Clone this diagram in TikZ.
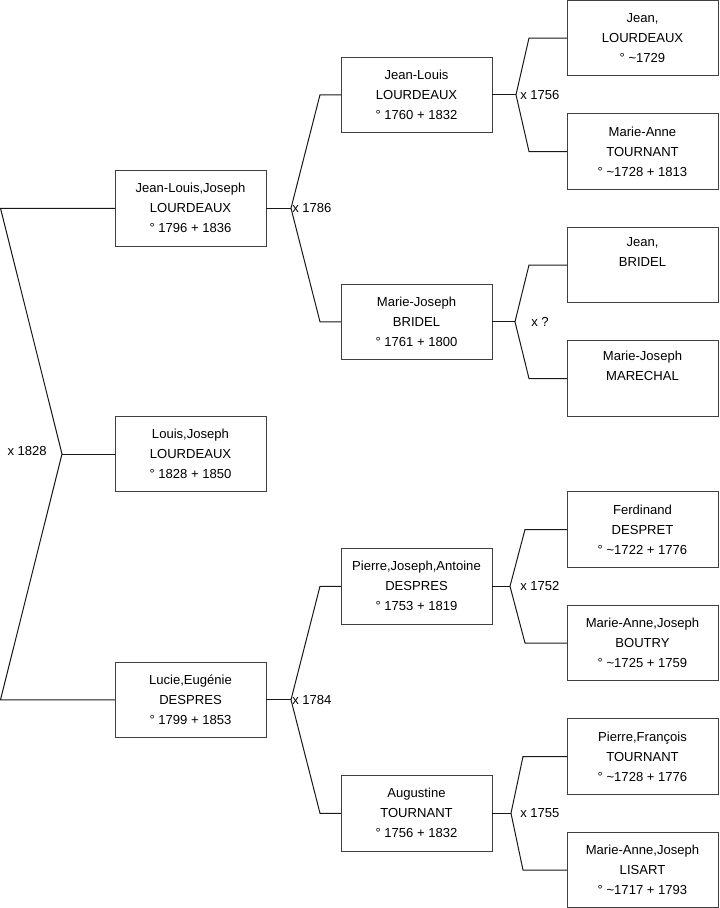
\documentclass[tikz,border=0pt]{standalone}
\usepackage{fontspec}
\setmainfont{Liberation Sans}
\usetikzlibrary{positioning,calc}

\begin{document}
\begin{tikzpicture}[
  x=0.75pt, y=0.75pt,
  person/.style={rectangle, draw=black!75, fill=white, align=center, outer sep=0pt,
                 minimum width=113.25pt, minimum height=56.625pt, line width=0.75pt,
                 font=\fontsize{9.8}{15}\selectfont},
  link/.style={line width=0.75pt, black!90},
  wed/.style={font=\fontsize{9.8}{15}\selectfont, inner sep=0pt},
  node distance=28.5pt
]
\useasboundingbox (0,0) rectangle (719,-908);
\coordinate (edge) at (0.5,0);

% grandparents
\node[person, anchor=north west] (jeanL) at (567,-0.25)
  {Jean,\\LOURDEAUX\\° \textasciitilde1729};
\node[person, below=of jeanL] (marieAnneT)
  {Marie-Anne\\TOURNANT\\° \textasciitilde1728 + 1813};
\node[person, below=of marieAnneT] (jeanB)
  {Jean,\\BRIDEL\\\strut};
\node[person, below=of jeanB] (marieJM)
  {Marie-Joseph\\MARECHAL\\\strut};
\node[person, below=56.625pt of marieJM] (ferdinandD)
  {Ferdinand\\DESPRET\\° \textasciitilde1722 + 1776};
\node[person, below=of ferdinandD] (marieAnneB)
  {Marie-Anne,Joseph\\BOUTRY\\° \textasciitilde1725 + 1759};
\node[person, below=of marieAnneB] (pierreFT)
  {Pierre,François\\TOURNANT\\° \textasciitilde1728 + 1776};
\node[person, below=of pierreFT] (marieAnneL)
  {Marie-Anne,Joseph\\LISART\\° \textasciitilde1717 + 1793};

% parents
\coordinate (mid1) at ($(jeanL.west)!0.5!(marieAnneT.west)$);
\coordinate (mid2) at ($(jeanB.west)!0.5!(marieJM.west)$);
\coordinate (mid3) at ($(ferdinandD.west)!0.5!(marieAnneB.west)$);
\coordinate (mid4) at ($(pierreFT.west)!0.5!(marieAnneL.west)$);
\node[person, left=56.25pt of mid1] (jeanLouisL)
  {Jean-Louis\\LOURDEAUX\\° 1760 + 1832};
\node[person, left=56.25pt of mid2] (marieJosephB)
  {Marie-Joseph\\BRIDEL\\° 1761 + 1800};
\node[person, left=56.25pt of mid3] (pierreJAD)
  {Pierre,Joseph,Antoine\\DESPRES\\° 1753 + 1819};
\node[person, left=56.25pt of mid4] (augustineT)
  {Augustine\\TOURNANT\\° 1756 + 1832};

% couple and child
\coordinate (mid5) at ($(jeanLouisL.west)!0.5!(marieJosephB.west)$);
\coordinate (mid6) at ($(pierreJAD.west)!0.5!(augustineT.west)$);
\node[person, left=56.25pt of mid5] (jeanLouisJL)
  {Jean-Louis,Joseph\\LOURDEAUX\\° 1796 + 1836};
\node[person, left=56.25pt of mid6] (lucieED)
  {Lucie,Eugénie\\DESPRES\\° 1799 + 1853};
\node[person] (louisJL) at ($(jeanLouisJL)!0.5!(lucieED)$)
  {Louis,Joseph\\LOURDEAUX\\° 1828 + 1850};

% marriages
\coordinate (wed1756) at ($(jeanLouisL.east)+(24,0)$);
\coordinate (wedQ) at ($(marieJosephB.east)+(23,0)$);
\coordinate (wed1752) at ($(pierreJAD.east)+(18,0)$);
\coordinate (wed1755) at ($(augustineT.east)+(19,0)$);
\coordinate (wed1786) at ($(jeanLouisJL.east)+(25,0)$);
\coordinate (wed1784) at ($(lucieED.east)+(25,0)$);
\coordinate (wed1828) at ($(louisJL.west)+(-53,0)$);

\draw[link] (jeanLouisL.east) -- (wed1756);
\draw[link] (jeanL.west) -- ++(-38,0) -- (wed1756) -- ($(marieAnneT.west)+(-38,0)$) -- (marieAnneT.west);
\draw[link] (marieJosephB.east) -- (wedQ);
\draw[link] (jeanB.west) -- ++(-38,0) -- (wedQ) -- ($(marieJM.west)+(-38,0)$) -- (marieJM.west);
\draw[link] (pierreJAD.east) -- (wed1752);
\draw[link] (ferdinandD.west) -- ++(-42,0) -- (wed1752) -- ($(marieAnneB.west)+(-42,0)$) -- (marieAnneB.west);
\draw[link] (augustineT.east) -- (wed1755);
\draw[link] (pierreFT.west) -- ++(-44,0) -- (wed1755) -- ($(marieAnneL.west)+(-44,0)$) -- (marieAnneL.west);
\draw[link] (jeanLouisJL.east) -- (wed1786);
\draw[link] (jeanLouisL.west) -- ++(-21,0) -- (wed1786) -- ($(marieJosephB.west)+(-21,0)$) -- (marieJosephB.west);
\draw[link] (lucieED.east) -- (wed1784);
\draw[link] (pierreJAD.west) -- ++(-21,0) -- (wed1784) -- ($(augustineT.west)+(-21,0)$) -- (augustineT.west);
\draw[link] (louisJL.west) -- (wed1828);
\draw[link] (jeanLouisJL.west) -- (jeanLouisJL.west -| edge) -- (wed1828) -- (lucieED.west -| edge) -- (lucieED.west);

\node[wed, anchor=west] (lab1756) at ($(wed1756)+(4,0)$) {x 1756};
\node[wed, anchor=west] (labQ) at ($(wedQ)+(16,0)$) {x ?};
\node[wed, anchor=west] (lab1752) at ($(wed1752)+(10,0)$) {x 1752};
\node[wed, anchor=west] (lab1755) at ($(wed1755)+(9,0)$) {x 1755};
\node[wed, anchor=west] (lab1786) at ($(wed1786)+(1,0)$) {x 1786};
\node[wed, anchor=west] (lab1784) at ($(wed1784)+(1,0)$) {x 1784};
\node[wed, anchor=east] (lab1828) at ($(wed1828)+(-15,3)$) {x 1828};
\end{tikzpicture}
\end{document}
